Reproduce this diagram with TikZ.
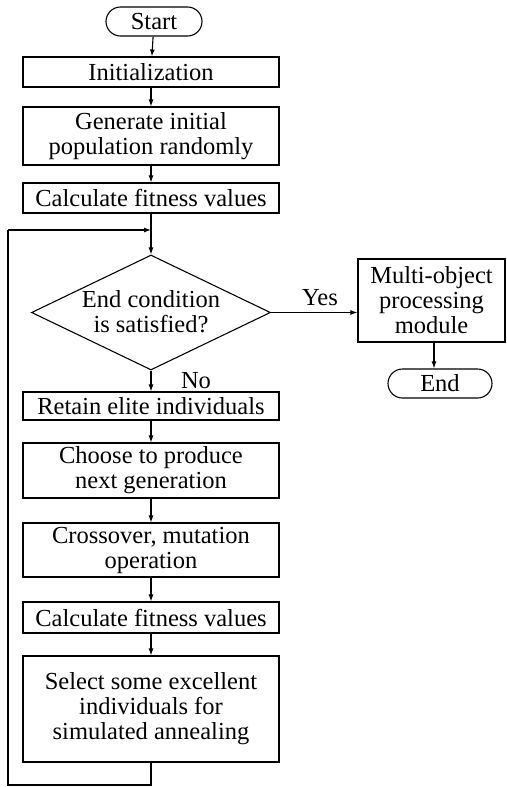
\documentclass[tikz,border=0pt]{standalone}
\usepackage{fontspec}
\setmainfont{Liberation Serif}
\usetikzlibrary{arrows.meta,shapes.geometric,shapes.misc}
\begin{document}
\begin{tikzpicture}[x=1pt,y=-1pt,
  every node/.style={font=\fontsize{24.5}{25}\selectfont, inner sep=0pt, align=center},
  proc/.style={draw, line width=1.1pt, minimum width=256pt},
  term/.style={draw, line width=1.1pt, rounded rectangle, minimum height=29pt},
  arr/.style={line width=1.1pt, -{Latex[length=7pt,width=5pt]}},
  ln/.style={line width=1.1pt}]
\useasboundingbox (0,0) rectangle (506,787);
\node[term, minimum width=96pt] (start) at (154,21.5) {Start};
\node[proc, minimum height=30pt] (init) at (151,72) {Initialization};
\node[proc, minimum height=58pt] (gen) at (151,136) {Generate initial\\population randomly};
\node[proc, minimum height=30pt] (calc) at (151,198) {Calculate fitness values};
\node[draw, diamond, line width=1.1pt, minimum width=239pt, minimum height=115pt] (dec) at (151,312.5) {};
\node (dect) at (151,312) {End condition\\is satisfied?};
\node[proc, minimum width=147pt, minimum height=83pt] (multi) at (431.5,300.5) {Multi-object\\processing\\module};
\node[term, minimum width=104pt] (end) at (440,383.5) {End};
\node (yes) at (320,298) {Yes};
\node (no) at (196,381) {No};
\node[proc, minimum height=28pt] (retain) at (151,406) {Retain elite individuals};
\node[proc, minimum height=55pt] (choose) at (151,470.5) {Choose to produce\\next generation};
\node[proc, minimum height=54pt] (cross) at (151,550) {Crossover, mutation\\operation};
\node[proc, minimum height=31pt] (calc2) at (151,617.5) {Calculate fitness values};
\node[proc, minimum height=106pt] (sel) at (151,709) {Select some excellent\\individuals for\\simulated annealing};
\coordinate (lb) at (151,785);
\coordinate (lbl) at (8,785);
\coordinate (ltl) at (8,230);
\coordinate (lt) at (151,230);
\draw[arr] (start) -- (init);
\draw[arr] (init) -- (gen);
\draw[arr] (gen) -- (calc);
\draw[arr] (calc) -- (dec.north);
\draw[arr] (dec.east) -- (dec.east -| multi.west);
\draw[arr] (multi.south -| 434,0) -- (end.north -| 434,0);
\draw[arr] (dec.south) -- (retain);
\draw[arr] (retain) -- (choose);
\draw[arr] (choose) -- (cross);
\draw[arr] (cross) -- (calc2);
\draw[arr] (calc2) -- (sel);
\draw[ln] (sel.south) -- (lb) -- (lbl) -- (ltl);
\draw[arr] (ltl) -- (lt);
\end{tikzpicture}
\end{document}
